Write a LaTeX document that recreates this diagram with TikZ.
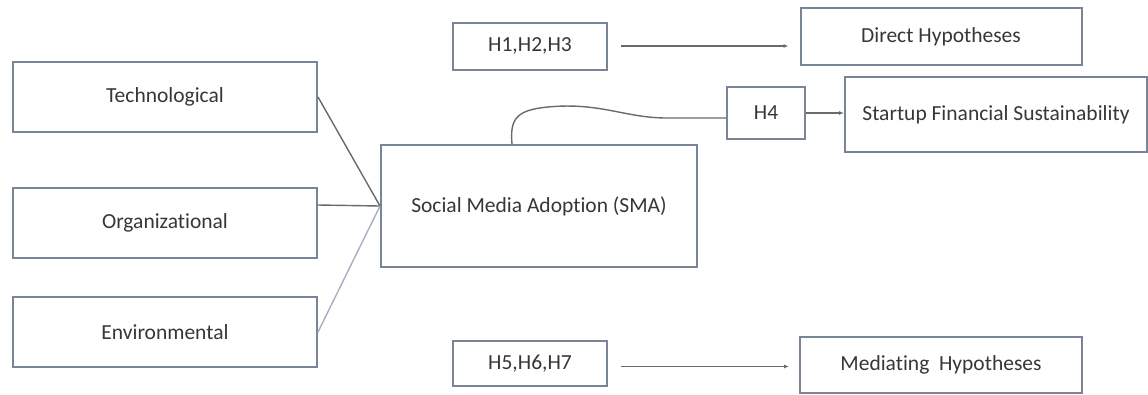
\documentclass[tikz,border=0pt]{standalone}
\usepackage{fontspec}
\setmainfont{Carlito}[Ligatures=NoCommon]
\usetikzlibrary{arrows.meta}
\definecolor{boxgray}{RGB}{122,132,152}
\definecolor{txtgray}{RGB}{55,55,55}
\definecolor{linegray}{RGB}{105,105,110}
\definecolor{lightline}{RGB}{165,175,195}

\begin{document}
\begin{tikzpicture}[x=1pt, y=-1pt,
  box/.style={draw=boxgray, line width=2pt, fill=white, text=txtgray,
    font=\fontsize{21.5}{24}\selectfont, inner sep=0pt},
  link/.style={draw=linegray, line width=1.4pt},
  arr/.style={link, -{Latex[length=5pt,width=4pt]}}]

\useasboundingbox (0,0) rectangle (1148,394);

% TOE factors
\node[box, minimum width=304, minimum height=70] (tech) at (165,97) {Technological};
\node[box, minimum width=304, minimum height=70] (org) at (165,223) {Organizational};
\node[box, minimum width=304, minimum height=70] (env) at (165,332) {Environmental};

\node[box, minimum width=316, minimum height=122] (sma) at (539,206) {Social Media Adoption (SMA)};

% hypotheses
\node[box, minimum width=154, minimum height=47] (h123) at (530,46) {H1,H2,H3};
\node[box, minimum width=281, minimum height=57] (direct) at (941,36.5) {Direct Hypotheses};
\node[box, minimum width=78, minimum height=52] (h4) at (766,113) {H4};
\node[box, minimum width=302, minimum height=75] (sfs) at (996,114.5) {Startup Financial Sustainability};
\node[box, minimum width=154, minimum height=45] (h567) at (530,363.5) {H5,H6,H7};
\node[box, minimum width=282, minimum height=56] (med) at (941,365) {Mediating\ \ Hypotheses};

% links into SMA
\draw[link] (tech.east) -- (sma.west);
\draw[link] ([yshift=18pt]org.east) -- (sma.west);
\draw[link, draw=lightline] (env.east) -- (sma.west);

% SMA to H4
\draw[link] ([xshift=-27pt]sma.north) .. controls (510,120) and (515,110) .. (548,107)
  .. controls (600,102) and (625,118) .. (667,118) -- ([yshift=-5pt]h4.west);

\coordinate (medfrom) at ([xshift=13pt,yshift=-3pt]h567.east);
\draw[arr] ([xshift=13pt]h123.east) -- ([xshift=-11pt]direct.west |- h123.east);
\draw[arr] (h4.east) -- (sfs.west |- h4.east);
\draw[arr] (medfrom) -- ([xshift=-10pt]med.west |- medfrom);

\end{tikzpicture}
\end{document}
